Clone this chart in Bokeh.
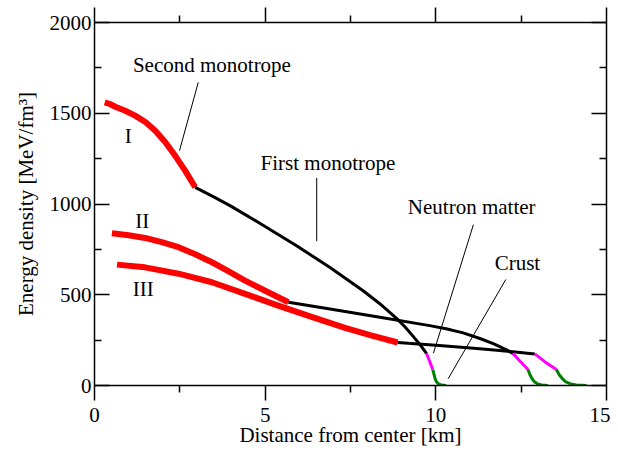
from bokeh.plotting import figure
from bokeh.models import Range1d, FixedTicker, LinearAxis, ColumnDataSource, CustomJSTickFormatter
from bokeh.core.properties import value
from bokeh.embed import file_html
from bokeh.resources import INLINE

FONT = "Liberation Serif"

# ---- data (distance from center [km], energy density [MeV/fm^3]) ----
# Star I
r_I_second = [0.30, 0.45, 0.61, 0.90, 1.19, 1.50, 1.78, 2.07, 2.36, 2.65, 2.95]
e_I_second = [1560, 1551, 1536, 1514, 1487, 1450, 1404, 1342, 1267, 1185, 1092]
r_I_first = [2.95, 3.45, 3.97, 4.95, 5.92, 6.90, 7.87, 8.35, 8.85, 9.10, 9.33, 9.55, 9.73]
e_I_first = [1092, 1043, 991, 882, 770, 650, 522, 452, 370, 322, 272, 222, 176]
r_I_neutron = [9.73, 9.82, 9.91]
e_I_neutron = [176, 132, 88]
r_I_crust = [9.91, 9.95, 9.98, 10.02, 10.08, 10.16, 10.30]
e_I_crust = [88, 58, 37, 20, 9, 3, 0]

# Star II
r_II_second = [0.51, 1.00, 1.48, 1.97, 2.46, 2.95, 3.44, 3.92, 4.41, 5.00, 5.68]
e_II_second = [839, 828, 813, 790, 762, 723, 679, 630, 578, 522, 459]
r_II_first = [5.68, 6.90, 8.36, 9.82, 10.30, 10.80, 11.29, 11.70, 12.07, 12.26]
e_II_first = [459, 422, 376, 330, 313, 290, 259, 229, 196, 177]
r_II_neutron = [12.26, 12.48, 12.70]
e_II_neutron = [177, 131, 88]
r_II_crust = [12.70, 12.76, 12.82, 12.89, 12.98, 13.10, 13.28]
e_II_crust = [88, 58, 37, 20, 9, 3, 0]

# Star III
r_III_second = [0.66, 1.48, 2.46, 3.44, 4.41, 5.38, 6.36, 7.34, 8.10, 8.88]
e_III_second = [666, 651, 616, 569, 505, 440, 378, 317, 276, 237]
r_III_first = [8.88, 10.10, 11.29, 12.10, 12.90]
e_III_first = [237, 220, 202, 189, 174]
r_III_neutron = [12.90, 13.20, 13.53]
e_III_neutron = [174, 130, 88]
r_III_crust = [13.53, 13.62, 13.71, 13.81, 13.95, 14.12, 14.42]
e_III_crust = [88, 58, 37, 20, 9, 3, 0]

# ticks
x_major = [0, 5, 10, 15]
x_minor = [2.5, 7.5, 12.5]
y_major = [0, 500, 1000, 1500, 2000]
y_minor = [250, 750, 1250, 1750]

# annotation texts and anchors (data coordinates)
ann_text = ["Second monotrope", "First monotrope", "Neutron matter", "Crust", "I", "II", "III"]
ann_x = [3.44, 6.84, 11.05, 12.39, 0.99, 1.40, 1.43]
ann_y = [1768, 1225, 986, 677, 1377, 909, 532]

lead_x0 = [3.04, 6.51, 11.10, 12.05]
lead_y0 = [1670, 1144, 886, 584]
lead_x1 = [2.49, 6.51, 9.93, 10.36]
lead_y1 = [1294, 795, 178, 37]

p = figure(frame_width=512, frame_height=363,
           x_range=Range1d(0, 15), y_range=Range1d(0, 2000),
           output_backend="svg", toolbar_location=None,
           min_border_left=94, min_border_top=22, min_border_right=4, min_border_bottom=10,
           outline_line_color=None, background_fill_color="white", border_fill_color="white")
p.xgrid.visible = False
p.ygrid.visible = False

def style_axis(ax, tick_in, tick_out, labels=True):
    ax.axis_line_color = "black"
    ax.axis_line_width = 1.5
    ax.major_tick_line_color = "black"
    ax.minor_tick_line_color = "black"
    ax.major_tick_line_width = 1.5
    ax.minor_tick_line_width = 1.5
    ax.major_tick_in = tick_in
    ax.major_tick_out = tick_out
    ax.minor_tick_in = tick_in // 2 if tick_in else 0
    ax.minor_tick_out = tick_out // 2 if tick_out else 0
    ax.major_label_text_font = FONT
    ax.major_label_text_font_size = "21px"
    ax.major_label_text_color = "black"
    ax.axis_label_text_font = FONT
    ax.axis_label_text_font_size = "21px"
    ax.axis_label_text_font_style = "normal"
    ax.axis_label_text_color = "black"
    if not labels:
        ax.formatter = CustomJSTickFormatter(code="return ''")

p.xaxis.ticker = FixedTicker(ticks=x_major, minor_ticks=x_minor)
p.yaxis.ticker = FixedTicker(ticks=y_major, minor_ticks=y_minor)
style_axis(p.xaxis[0], 0, 15)
style_axis(p.yaxis[0], 15, 0)
p.xaxis.axis_label = "Distance from center [km]"
p.yaxis.axis_label = "Energy density [MeV/fm³]"
p.xaxis.major_label_standoff = 7
p.xaxis.axis_label_standoff = -2
p.yaxis.major_label_standoff = 3
p.yaxis.axis_label_standoff = 9

top = LinearAxis(ticker=FixedTicker(ticks=x_major, minor_ticks=x_minor))
style_axis(top, 0, 15, labels=False)
p.add_layout(top, "above")
right = LinearAxis(ticker=FixedTicker(ticks=y_major, minor_ticks=y_minor))
style_axis(right, 15, 0, labels=False)
p.add_layout(right, "right")

RED, MAG, GRN = "#ff0000", "#ff00ff", "#008000"
for rs, es in [(r_I_second, e_I_second), (r_II_second, e_II_second), (r_III_second, e_III_second)]:
    p.line(rs, es, line_color=RED, line_width=6, line_join="round")
for rs, es in [(r_I_first, e_I_first), (r_II_first, e_II_first), (r_III_first, e_III_first)]:
    p.line(rs, es, line_color="black", line_width=3, line_join="round")
for rs, es in [(r_I_neutron, e_I_neutron), (r_II_neutron, e_II_neutron), (r_III_neutron, e_III_neutron)]:
    p.line(rs, es, line_color=MAG, line_width=3, line_join="round")
for rs, es in [(r_I_crust, e_I_crust), (r_II_crust, e_II_crust), (r_III_crust, e_III_crust)]:
    p.line(rs, es, line_color=GRN, line_width=3, line_join="round")

p.segment(x0=lead_x0, y0=lead_y0, x1=lead_x1, y1=lead_y1, line_color="black", line_width=1)

src = ColumnDataSource(dict(x=ann_x, y=ann_y, t=ann_text))
p.text(x="x", y="y", text="t", source=src, text_font=value(FONT), text_font_size="21px",
       text_align="center", text_baseline="middle", text_color="black")

open("out.html", "w").write(file_html(p, INLINE))
